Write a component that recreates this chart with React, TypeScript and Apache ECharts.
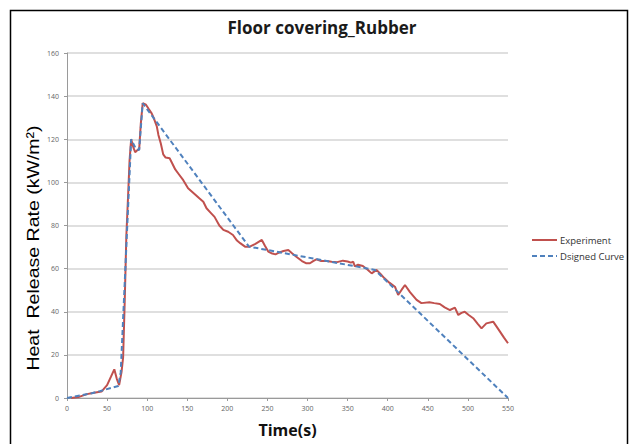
import React, { useEffect, useRef } from "react";
import * as echarts from "echarts";

const expTime = [5, 15, 25, 32, 43, 50, 55, 59, 62, 65, 68, 70, 72, 74, 76.5, 78, 80, 83, 85, 88, 90, 92, 94.4, 98.5, 102, 105.6, 108, 112, 114, 117, 120, 123, 128, 131, 135, 139, 145, 151, 158, 165, 170, 174, 179, 184, 190, 195, 201, 207, 212, 216, 222, 228, 235, 243, 247, 251, 256, 260, 265, 270, 276, 281, 286, 293, 298, 303, 307, 311, 317, 324, 330, 337, 344, 350, 354, 357, 359, 363, 369, 375, 380, 386, 391, 396, 402, 409, 413, 417, 421.5, 428, 436, 442, 452, 458, 465, 471, 477.6, 483.8, 488, 492, 496, 501, 506.6, 512, 517, 523, 531.5, 536, 540, 545, 550];
const expHRR = [0, 0.5, 1.8, 2.3, 3, 6, 10, 13.3, 9, 6, 12, 19, 45, 75, 96.5, 110, 120, 116, 114, 115, 115.3, 127, 136.7, 136, 134, 132, 130, 126, 122, 118, 113, 111.5, 111.2, 109, 106, 104, 101, 97.3, 95, 92.6, 91, 88, 86, 84, 80, 78, 77.1, 75.6, 73, 71.8, 70.2, 70.2, 71.5, 73.3, 70.5, 67.9, 67, 66.6, 67.5, 68.2, 68.6, 67, 65.5, 63.5, 62.5, 62.5, 63.5, 64.3, 63.5, 63.5, 63.2, 63, 63.7, 63.3, 62.8, 63.2, 61, 61.8, 61.2, 59.5, 57.8, 59.4, 57.5, 55.5, 53.5, 51.6, 47.8, 50, 52.4, 49, 45.5, 44, 44.4, 44, 43.6, 42, 40.8, 41.9, 38.5, 39.5, 40, 38.5, 37, 34.5, 32.3, 34.6, 35.4, 33, 30.8, 28, 25.4];

const designTime = [0, 31, 41, 64, 67, 80, 86, 90, 94.4, 227, 384, 550];
const designHRR = [0, 2.2, 3.2, 5.6, 12, 120, 115.5, 115, 136.7, 70.2, 59.4, 0];

const xTicks = { min: 0, max: 550, interval: 50 };
const yTicks = { min: 0, max: 160, interval: 20 };

const seriesNames = ["Experiment", "Dsigned Curve"];
const titleText = "Floor covering_Rubber";
const xName = "Time(s)";
const yName = "Heat  Release Rate (kW/m²)";

export default function App() {
  const ref = useRef<HTMLDivElement>(null);
  useEffect(() => {
    if (!ref.current) return;
    const chart = echarts.init(ref.current, null, { renderer: "svg" });
    const exp = expTime.map((t, i) => [t, expHRR[i]]);
    const des = designTime.map((t, i) => [t, designHRR[i]]);
    chart.setOption({
      animation: false,
      backgroundColor: "#ffffff",
      title: {
        text: titleText,
        left: 317,
        textAlign: "center",
        top: 14,
        textStyle: { fontFamily: "Open Sans", fontSize: 17, fontWeight: "bold", color: "#1a1a1a" },
      },
      legend: {
        orient: "vertical",
        left: 526,
        top: 230,
        itemGap: 6,
        itemWidth: 25,
        itemHeight: 10,
        itemStyle: { opacity: 0 },
        textStyle: { fontFamily: "Open Sans", fontSize: 9.5, color: "#333", padding: [0, 0, 0, -2] },
        data: seriesNames,
      },
      grid: { left: 67, right: 125, top: 53, bottom: 46, containLabel: false },
      xAxis: {
        type: "value",
        min: xTicks.min,
        max: xTicks.max,
        interval: xTicks.interval,
        name: xName,
        nameLocation: "middle",
        nameGap: 24,
        nameTextStyle: { fontFamily: "Open Sans", fontSize: 16, fontWeight: "bold", color: "#111" },
        axisLine: { lineStyle: { color: "#9a9a9a", width: 1 } },
        axisTick: { show: true, length: 3, lineStyle: { color: "#9a9a9a" } },
        axisLabel: { fontFamily: "Open Sans", fontSize: 7, color: "#666", margin: 7 },
        splitLine: { show: false },
      },
      yAxis: {
        type: "value",
        min: yTicks.min,
        max: yTicks.max,
        interval: yTicks.interval,
        axisLine: { show: true, lineStyle: { color: "#9a9a9a", width: 1 } },
        axisTick: { show: true, length: 3, lineStyle: { color: "#9a9a9a" } },
        axisLabel: { fontFamily: "Open Sans", fontSize: 7, color: "#666", margin: 8 },
        splitLine: { show: true, lineStyle: { color: "#d4d4d4", width: 1.5 } },
      },
      graphic: [
        {
          type: "rect",
          shape: { x: 10.5, y: 10.5, width: 617, height: 460 },
          style: { fill: "none", stroke: "#000", lineWidth: 1.5 },
          z: 100,
        },
        {
          type: "text",
          x: 33,
          y: 248,
          rotation: Math.PI / 2,
          scaleX: 1.15,
          style: {
            text: yName,
            fontFamily: "Liberation Sans",
            fontSize: 17,
            fill: "#000",
            align: "center",
            verticalAlign: "middle",
          },
        },
      ],
      series: [
        {
          name: seriesNames[0],
          type: "line",
          data: exp,
          showSymbol: false,
          symbol: "none",
          lineStyle: { color: "#c0504d", width: 2 },
          itemStyle: { color: "#c0504d" },
          z: 2,
        },
        {
          name: seriesNames[1],
          type: "line",
          data: des,
          showSymbol: false,
          symbol: "none",
          lineStyle: { color: "#4f81bd", width: 2, type: [5, 3] },
          itemStyle: { color: "#4f81bd" },
          z: 3,
        },
      ],
    });
    return () => chart.dispose();
  }, []);
  return <div ref={ref} style={{ position: "fixed", left: 0, top: 0, width: 633, height: 444 }} />;
}
